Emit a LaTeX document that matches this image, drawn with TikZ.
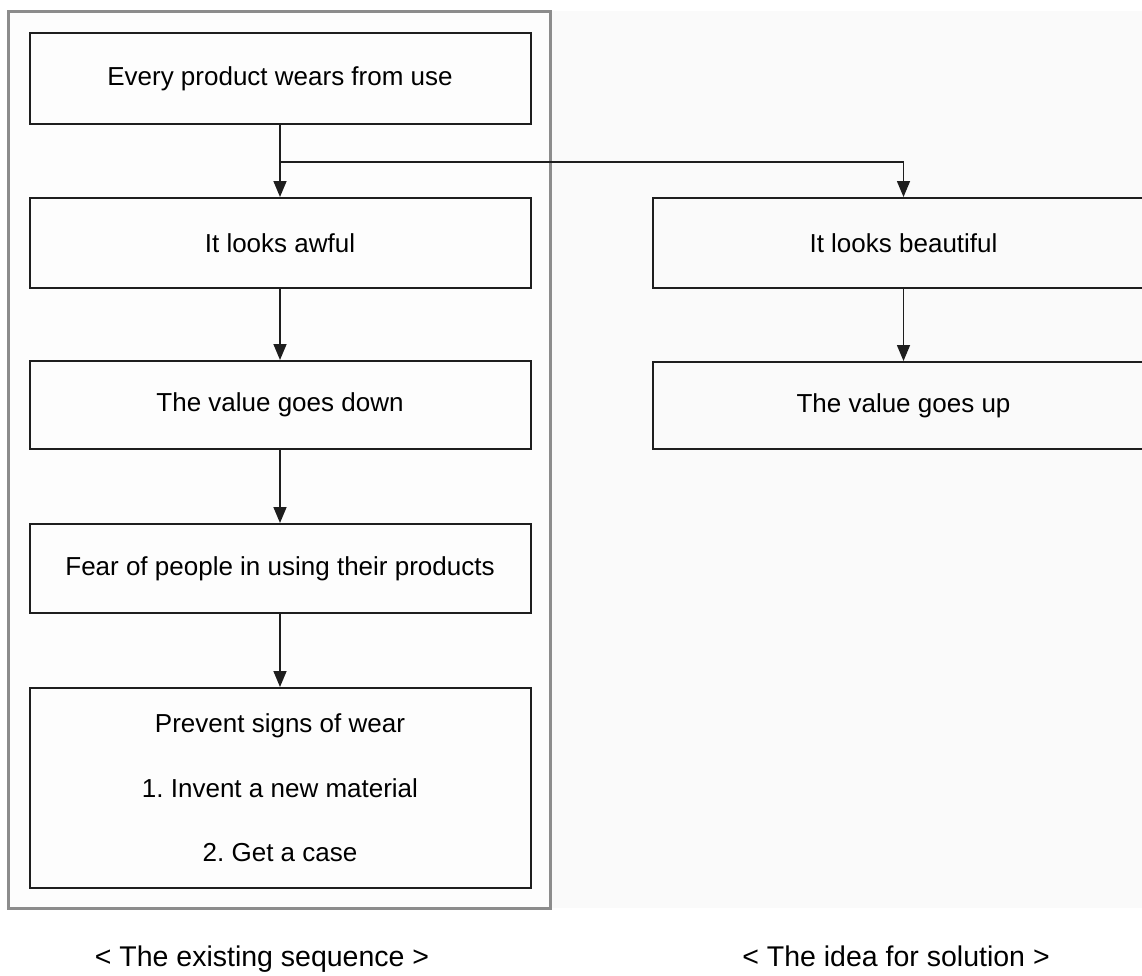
\documentclass[tikz,border=0pt]{standalone}
\usepackage{fontspec}
\setmainfont{Liberation Sans}
\usetikzlibrary{arrows.meta}
\frenchspacing
\definecolor{panelgray}{RGB}{140,140,140}
\definecolor{boxline}{RGB}{30,30,30}
\definecolor{paper}{RGB}{250,250,250}
\tikzset{
  stepbox/.style={draw=boxline, line width=2pt, minimum width=501pt, inner sep=0pt,
    font=\fontsize{26}{31}\selectfont, text=black},
  arr/.style={draw=boxline, line width=1.6pt, -{Triangle[width=13pt,length=16pt]}},
  caption/.style={font=\fontsize{28.5}{34}\selectfont, anchor=base, inner sep=0pt}
}
\begin{document}
\begin{tikzpicture}[x=1pt,y=-1pt]
\useasboundingbox (0,0) rectangle (1142,975);
\clip (0,0) rectangle (1142,975);
\fill[white] (0,0) rectangle (1142,975);
\fill[paper] (550,11) rectangle (1142,908);
\draw[panelgray, line width=3pt, fill=paper!40!white] (8,11) rectangle (550,908);

\node[stepbox, minimum height=91pt] (b1) at (280,78.5) {Every product wears from use};
\node[stepbox, minimum height=90pt] (b2) at (280,243) {It looks awful};
\node[stepbox, minimum height=88pt] (b3) at (280,405) {The value goes down};
\node[stepbox, minimum height=89pt] (b4) at (280,568.5) {Fear of people in using their products};
\node[stepbox, minimum height=200pt, align=center, font=\fontsize{26}{64.5}\selectfont] (b5) at (280,788)
  {Prevent signs of wear\\1. Invent a new material\\2. Get a case};

\node[stepbox, minimum height=90pt] (r1) at (903.5,243) {It looks beautiful};
\node[stepbox, minimum height=87pt] (r2) at (903.5,405.5) {The value goes up};

\coordinate (j) at (280,162);
\draw[arr] (b1.south) -- (b2.north);
\draw[arr] (j) -| (r1.north);
\draw[arr] (b2.south) -- (b3.north);
\draw[arr] (b3.south) -- (b4.north);
\draw[arr] (b4.south) -- (b5.north);
\draw[arr] (r1.south) -- (r2.north);

\node[caption] (c1) at (262,966) {< The existing sequence >};
\node[caption] (c2) at (896,966) {< The idea for solution >};
\end{tikzpicture}
\end{document}
